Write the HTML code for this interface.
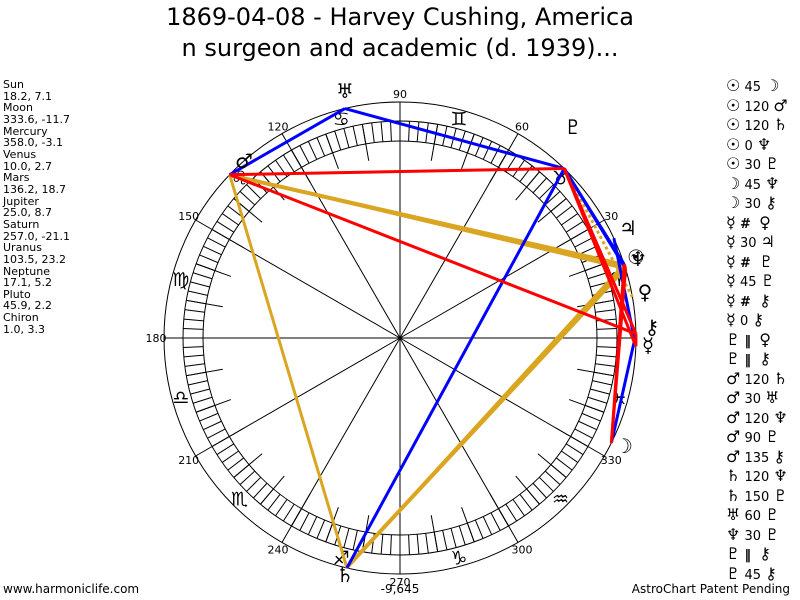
<!DOCTYPE html>
<html><head><meta charset="utf-8">
<style>
body{margin:0;background:#fff;width:800px;height:600px;overflow:hidden;font-family:"DejaVu Sans","Liberation Sans",sans-serif;}
#t{position:absolute;left:0;top:2px;width:800px;text-align:center;font-size:24px;line-height:31px;color:#000;}
#l{position:absolute;left:3px;top:79px;font-size:11px;line-height:11.65px;color:#000;}
#r{position:absolute;left:726px;top:78px;font-size:13px;color:#000;white-space:pre;}
#r div{height:19.5px;line-height:19.5px;overflow:visible}
#r span{font-size:16px;line-height:10px}
.b{position:absolute;top:582px;font-size:12px;}
svg{position:absolute;left:0;top:0}
</style></head><body>
<svg id="s" width="800" height="600" xmlns="http://www.w3.org/2000/svg"></svg>
<div id="t">1869-04-08 - Harvey Cushing, America<br>n surgeon and academic (d. 1939)...</div>
<div id="l">Sun<br>18.2, 7.1<br>Moon<br>333.6, -11.7<br>Mercury<br>358.0, -3.1<br>Venus<br>10.0, 2.7<br>Mars<br>136.2, 18.7<br>Jupiter<br>25.0, 8.7<br>Saturn<br>257.0, -21.1<br>Uranus<br>103.5, 23.2<br>Neptune<br>17.1, 5.2<br>Pluto<br>45.9, 2.2<br>Chiron<br>1.0, 3.3</div>
<div id="r"><div><span>☉</span> 45 <span>☽</span></div><div><span>☉</span> 120 <span>♂</span></div><div><span>☉</span> 120 <span>♄</span></div><div><span>☉</span> 0 <span>♆</span></div><div><span>☉</span> 30 <span>♇</span></div><div><span>☽</span> 45 <span>♆</span></div><div><span>☽</span> 30 <span>⚷</span></div><div><span>☿</span> <b>#</b>  <span>♀</span></div><div><span>☿</span> 30 <span>♃</span></div><div><span>☿</span> <b>#</b>  <span>♇</span></div><div><span>☿</span> 45 <span>♇</span></div><div><span>☿</span> <b>#</b>  <span>⚷</span></div><div><span>☿</span> 0 <span>⚷</span></div><div><span>♇</span> <b>‖</b>  <span>♀</span></div><div><span>♇</span> <b>‖</b>  <span>⚷</span></div><div><span>♂</span> 120 <span>♄</span></div><div><span>♂</span> 30 <span>♅</span></div><div><span>♂</span> 120 <span>♆</span></div><div><span>♂</span> 90 <span>♇</span></div><div><span>♂</span> 135 <span>⚷</span></div><div><span>♄</span> 120 <span>♆</span></div><div><span>♄</span> 150 <span>♇</span></div><div><span>♅</span> 60 <span>♇</span></div><div><span>♆</span> 30 <span>♇</span></div><div><span>♇</span> <b>‖</b>  <span>⚷</span></div><div><span>♇</span> 45 <span>⚷</span></div></div>
<div class="b" style="left:3px">www.harmoniclife.com</div>
<div class="b" style="left:370px;width:60px;text-align:center">-9,645</div>
<div class="b" style="right:10px">AstroChart Patent Pending</div>
<script>
var s=document.getElementById('s'),h='',cx=400,cy=338,R=236;
function P(a,r){a=a*Math.PI/180;return [cx+r*Math.cos(a),cy-r*Math.sin(a)];}
function L(a,r1,b,r2,c,w,d){var p=P(a,r1),q=P(b,r2);h+='<line x1="'+p[0]+'" y1="'+p[1]+'" x2="'+q[0]+'" y2="'+q[1]+'" stroke="'+c+'" stroke-width="'+w+'"'+(d?' stroke-dasharray="'+d+'"':'')+'/>';}
h+='<circle cx="400" cy="338" r="236" fill="none" stroke="#000"/><circle cx="400" cy="338" r="217" fill="none" stroke="#000"/><circle cx="400" cy="338" r="197" fill="none" stroke="#000"/>';
for(var a=0;a<360;a+=2.5)L(a,197,a,217,'#000',1);
for(a=0;a<360;a+=10)L(a,180,a,217,'#000',1);
for(a=0;a<360;a+=30)L(a,0,a,236,'#000',1);
for(a=0;a<360;a+=30){if(a==0)continue;var p=P(a,244);h+='<text x="'+p[0]+'" y="'+(p[1]+4)+'" font-size="11" text-anchor="middle" font-family="DejaVu Sans,sans-serif">'+a+'</text>';}
var z=['♈','♉','♊','♋','♌','♍','♎','♏','♐','♑','♒','♓'];
for(var i=0;i<12;i++){var p=P(i*30+15,227);h+='<text x="'+p[0]+'" y="'+(p[1]+7)+'" font-size="19" text-anchor="middle" font-family="DejaVu Sans,sans-serif">'+z[i]+'</text>';}
var pl={Su:18.2,Mo:333.6,Me:358,Ve:10,Ma:136.2,Ju:25,Sa:257,Ur:103.5,Ne:17.1,Pl:45.9,Ch:1};
function A(x,y,c,d){L(pl[x],R,pl[y],R,c,3,d);}
var O='#daa520',B='#0000ff',Rd='#ff0000';
A('Ma','Sa',O);A('Ma','Ne',O);A('Su','Ma',O);A('Sa','Su',O);A('Sa','Ne',O);
L(pl.Ma,R-3,pl.Su,R-3,O,2);L(pl.Sa,R-3,pl.Ne,R-3,O,2);
A('Pl','Ch',O,'3,3');A('Ve','Pl',O,'3,3');
A('Ur','Pl',B);A('Ma','Ur',B);A('Sa','Pl',B);A('Mo','Ch',B);A('Me','Ju',B);A('Ne','Pl',B);A('Su','Pl',B);
A('Ma','Pl',Rd);A('Ma','Ch',Rd);A('Pl','Ch',Rd);A('Me','Pl',Rd);A('Su','Mo',Rd);A('Mo','Ne',Rd);A('Su','Ne',Rd);A('Me','Ch',Rd);
var g=[['♅',345,98],['♇',573,134],['♂',244,168],['♃',628,235],['☉',636,264],['♆',638,266],['♀',645,299],['⚷',652,334],['☿',648,352],['☽',624,453],['♄',345,582]];
g.forEach(function(e){h+='<text x="'+e[1]+'" y="'+e[2]+'" font-size="20" text-anchor="middle" font-family="DejaVu Sans,sans-serif">'+e[0]+'</text>';});
s.innerHTML=h;
</script>
</body></html>
